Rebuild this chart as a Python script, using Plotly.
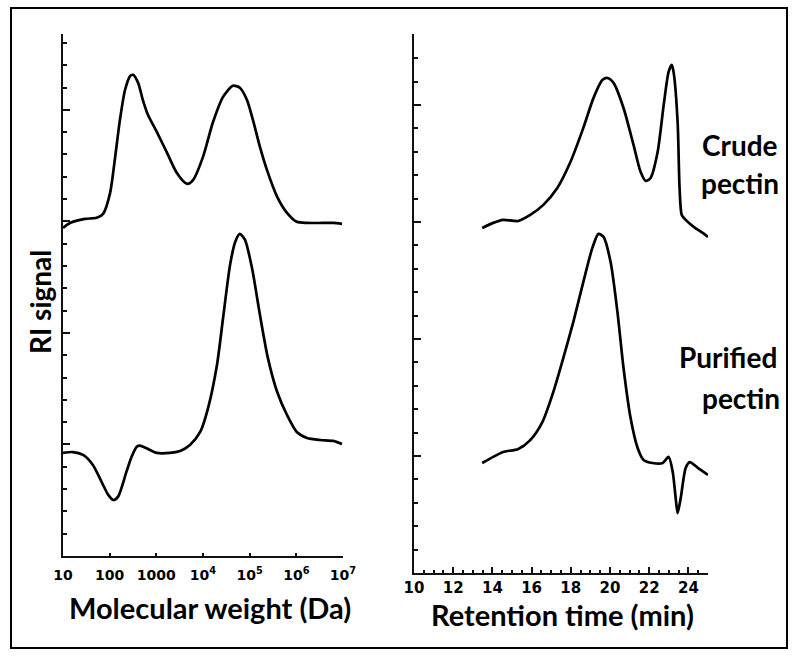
import plotly.graph_objects as go

# ---------------- data ----------------
# Left panel: log10(molecular weight, Da) vs RI signal (arbitrary units)
mw_crude_log = [1.00, 1.15, 1.47, 1.72, 1.86, 2.01, 2.11, 2.22, 2.33, 2.44, 2.50, 2.61, 2.71, 2.82,
                3.01, 3.23, 3.44, 3.66, 3.79, 4.00, 4.21, 4.43, 4.64, 4.79, 4.94, 5.07, 5.22, 5.37,
                5.59, 5.80, 6.01, 6.23, 6.57, 6.79, 6.98]
ri_crude_mw = [14.71, 14.93, 15.11, 15.16, 15.34, 16.28, 17.76, 19.55, 20.90, 21.52, 21.57, 21.21,
               20.45, 19.78, 19.01, 18.07, 17.17, 16.68, 16.86, 17.89, 19.42, 20.58, 21.08, 20.99,
               20.45, 19.55, 18.34, 17.31, 16.10, 15.38, 14.98, 14.93, 14.93, 14.93, 14.89]

mw_pur_log = [1.00, 1.21, 1.43, 1.64, 1.86, 1.97, 2.08, 2.18, 2.36, 2.47, 2.58, 2.65, 2.79, 3.01,
              3.29, 3.51, 3.72, 3.94, 4.11, 4.30, 4.43, 4.58, 4.69, 4.79, 4.90, 5.05, 5.22, 5.39,
              5.59, 5.80, 6.01, 6.23, 6.51, 6.79, 6.98]
ri_pur_mw = [4.62, 4.66, 4.53, 4.08, 3.18, 2.74, 2.51, 2.66, 3.78, 4.45, 4.90, 4.95, 4.83, 4.62,
             4.62, 4.71, 4.98, 5.56, 6.64, 8.57, 10.67, 13.05, 14.08, 14.44, 14.17, 12.91, 10.81,
             8.88, 7.35, 6.32, 5.56, 5.29, 5.20, 5.16, 5.02]

# Right panel: retention time (min) vs RI signal
rt_crude = [13.48, 14.04, 14.55, 15.32, 15.93, 16.60, 17.31, 17.98, 18.64, 19.16, 19.62, 19.87,
            20.18, 20.69, 21.20, 21.56, 21.82, 22.07, 22.43, 22.74, 22.99, 23.15, 23.25, 23.45,
            23.55, 23.66, 23.86, 24.27, 24.73, 25.00]
ri_crude_rt = [14.74, 14.96, 15.09, 15.04, 15.30, 15.73, 16.45, 17.56, 19.02, 20.30, 21.07, 21.15,
               20.94, 19.87, 18.29, 17.14, 16.75, 16.88, 17.99, 20.00, 21.41, 21.71, 21.37, 19.27,
               16.45, 15.30, 15.09, 14.79, 14.53, 14.36]

rt_pur = [13.48, 14.04, 14.55, 15.32, 15.93, 16.55, 17.11, 17.62, 18.13, 18.64, 19.10, 19.41,
          19.67, 20.03, 20.38, 20.69, 21.05, 21.41, 21.71, 22.17, 22.69, 22.99, 23.20, 23.35,
          23.45, 23.61, 23.86, 24.07, 24.48, 25.00]
ri_pur_rt = [4.70, 4.96, 5.17, 5.30, 5.68, 6.45, 7.74, 9.19, 10.73, 12.44, 13.89, 14.49, 14.36,
             13.29, 11.15, 8.76, 6.62, 5.34, 4.83, 4.70, 4.70, 4.96, 4.32, 3.21, 2.56, 3.21, 4.49,
             4.74, 4.49, 4.19]

mw_tick_vals = [10, 100, 1000, 1e4, 1e5, 1e6, 1e7]
mw_tick_text = ["10", "100", "1000", "10<sup>4</sup>", "10<sup>5</sup>", "10<sup>6</sup>", "10<sup>7</sup>"]
rt_tick_vals = [10, 12, 14, 16, 18, 20, 22, 24]
rt_tick_text = ["10", "12", "14", "16", "18", "20", "22", "24"]

sample_labels = [["Crude", "pectin"], ["Purified", "pectin"]]
x_title_left = "Molecular weight (Da)"
x_title_right = "Retention time (min)"
y_title = "RI signal"

# ---------------- figure ----------------
W, H = 794, 658
def px(x):
    return x / W
def py(y):
    return 1 - y / H

fig = go.Figure()
line = dict(color="black", width=2.7, shape="spline", smoothing=0.7)
fig.add_trace(go.Scatter(x=[10 ** v for v in mw_crude_log], y=ri_crude_mw, mode="lines",
                         line=line, xaxis="x", yaxis="y", showlegend=False))
fig.add_trace(go.Scatter(x=[10 ** v for v in mw_pur_log], y=ri_pur_mw, mode="lines",
                         line=line, xaxis="x", yaxis="y", showlegend=False))
fig.add_trace(go.Scatter(x=rt_crude, y=ri_crude_rt, mode="lines",
                         line=line, xaxis="x2", yaxis="y2", showlegend=False))
fig.add_trace(go.Scatter(x=rt_pur, y=ri_pur_rt, mode="lines",
                         line=line, xaxis="x2", yaxis="y2", showlegend=False))

tickfont_l = dict(family="DejaVu Sans", size=14, color="black", weight="bold")
tickfont_r = dict(family="DejaVu Sans", size=15, color="black", weight="bold")
axcommon = dict(showgrid=False, zeroline=False, showline=True, linecolor="#111", linewidth=2,
                ticks="inside", tickcolor="#111", tickwidth=2, automargin=False)

fig.update_layout(
    width=W, height=H, autosize=False, margin=dict(l=0, r=0, t=0, b=0, pad=0),
    paper_bgcolor="white", plot_bgcolor="white",
    xaxis=dict(**axcommon, type="log", range=[1, 7], domain=[px(63), px(343)],
               tickvals=mw_tick_vals, ticktext=mw_tick_text, ticklen=3,
               tickfont=tickfont_l, anchor="y", ticklabelstandoff=5),
    yaxis=dict(**axcommon, range=[0, 23.4], domain=[py(556), py(34)], dtick=5, tick0=0,
               ticklen=7, showticklabels=False, anchor="x",
               minor=dict(dtick=1, ticklen=4, tickcolor="#111", tickwidth=2, ticks="inside")),
    xaxis2=dict(**axcommon, range=[10, 25], domain=[px(414), px(708)],
                tickvals=rt_tick_vals, ticktext=rt_tick_text, ticklen=6,
                tickfont=tickfont_r, anchor="y2", ticklabelstandoff=0,
                minor=dict(dtick=0.5, tick0=10, ticklen=3, tickcolor="#111", tickwidth=2, ticks="inside")),
    yaxis2=dict(**axcommon, range=[0, 23.03], domain=[py(573), py(34)], dtick=5, tick0=0,
                ticklen=7, showticklabels=False, anchor="x2",
                minor=dict(dtick=1, ticklen=4, tickcolor="#111", tickwidth=2, ticks="inside")),
    shapes=[dict(type="rect", xref="paper", yref="paper", x0=px(11), x1=px(787), y0=py(648), y1=py(8),
                 line=dict(color="black", width=2), fillcolor="rgba(0,0,0,0)", layer="above")],
)

title_font = dict(family="Lato", size=29, color="black", weight="bold")
ytitle_font = dict(family="Lato", size=28, color="black", weight="bold")
label_font = dict(family="Lato", size=28, color="black", weight="bold")
ann = []
ann.append(dict(text=x_title_left, x=px(210), y=py(607), xref="paper", yref="paper",
                showarrow=False, font=title_font, xanchor="center", yanchor="middle"))
ann.append(dict(text=x_title_right, x=px(562), y=py(614), xref="paper", yref="paper",
                showarrow=False, font=title_font, xanchor="center", yanchor="middle"))
ann.append(dict(text=y_title, x=px(40), y=py(302), xref="paper", yref="paper", textangle=-90,
                showarrow=False, font=ytitle_font, xanchor="center", yanchor="middle"))
label_pos = [[(740, 145), (740, 183)], [(728, 357), (741, 398)]]
for words, poss in zip(sample_labels, label_pos):
    for w, (lx, ly) in zip(words, poss):
        ann.append(dict(text=w, x=px(lx), y=py(ly), xref="paper", yref="paper",
                        showarrow=False, font=label_font, xanchor="center", yanchor="middle"))
fig.update_layout(annotations=ann)

fig.write_html("out.html", config={"displayModeBar": False},
               post_script="document.body.style.margin='0';document.body.style.padding='0';"
                           "document.documentElement.style.overflow='hidden';"
                           "document.body.style.overflow='hidden';")
